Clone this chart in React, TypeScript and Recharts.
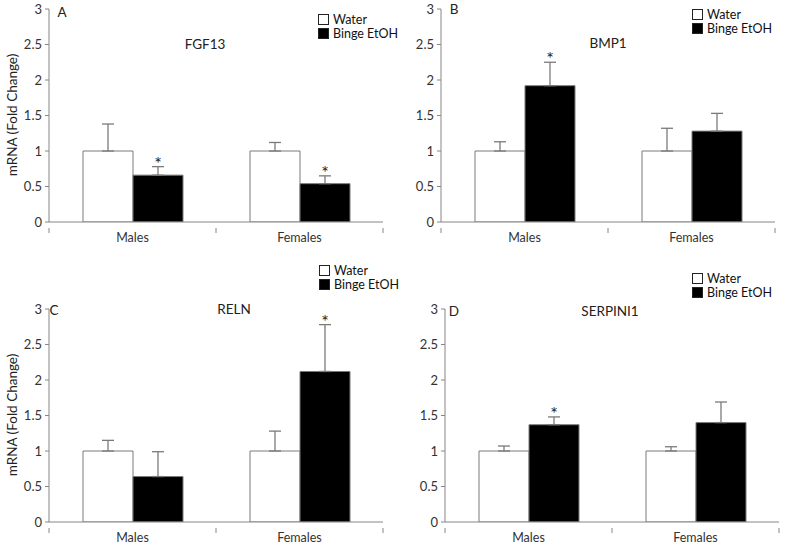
import React from 'react'
import { BarChart, Bar, XAxis, YAxis, ErrorBar, LabelList } from 'recharts'

const categories = ['Males', 'Females']
const yTicks = [0, 0.5, 1, 1.5, 2, 2.5, 3]

// FGF13 (A)
const fgf13Water = [1, 1]
const fgf13WaterErr = [0.38, 0.12]
const fgf13Binge = [0.66, 0.54]
const fgf13BingeErr = [0.12, 0.11]
const fgf13Sig = [true, true]

// BMP1 (B)
const bmp1Water = [1, 1]
const bmp1WaterErr = [0.13, 0.32]
const bmp1Binge = [1.92, 1.28]
const bmp1BingeErr = [0.33, 0.25]
const bmp1Sig = [true, false]

// RELN (C)
const relnWater = [1, 1]
const relnWaterErr = [0.15, 0.28]
const relnBinge = [0.64, 2.12]
const relnBingeErr = [0.35, 0.66]
const relnSig = [false, true]

// SERPINI1 (D)
const serpWater = [1, 1]
const serpWaterErr = [0.07, 0.06]
const serpBinge = [1.37, 1.4]
const serpBingeErr = [0.11, 0.29]
const serpSig = [true, false]

const FONT = 'Lato, "Liberation Sans", sans-serif'
const AXIS = '#868686'
const CHART_W = 392
const Y_W = 49
const RIGHT = 9
const HALF_BAND = (CHART_W - Y_W - RIGHT) / categories.length / 2

// category label plus the small boundary ticks between groups
const CatTick = (props: any) => {
  const { x, y, payload, index } = props
  const y0 = y - 6
  return (
    <g>
      {index === 0 && <line x1={x - HALF_BAND} x2={x - HALF_BAND} y1={y0} y2={y0 + 5} stroke={AXIS} />}
      <line x1={x + HALF_BAND} x2={x + HALF_BAND} y1={y0} y2={y0 + 5} stroke={AXIS} />
      <text x={x} y={y + 8} textAnchor="middle" fontSize={12.5} fill="#333" fontFamily={FONT}>
        {payload.value}
      </text>
    </g>
  )
}

type PanelProps = {
  left: number
  top: number
  letter: string
  title: string
  water: number[]
  waterErr: number[]
  binge: number[]
  bingeErr: number[]
  sig: boolean[]
  yLabel: boolean
  legend: { x: number; y: number }
  titlePos: { x: number; y: number }
  letterPos: { x: number; y: number }
}

function Panel(p: PanelProps) {
  const data = categories.map((c, i) => ({
    name: c,
    water: p.water[i],
    waterErr: [0, p.waterErr[i]],
    binge: p.binge[i],
    bingeErr: [0, p.bingeErr[i]],
  }))

  const star = (props: any) => {
    const { x, y, width, height, value, index } = props
    if (!p.sig[index]) return null
    const ppu = height / value
    const ty = y - p.bingeErr[index] * ppu + 3
    return (
      <text x={x + width / 2} y={ty} textAnchor="middle" fontSize={18} fontFamily={FONT} fill="#222">
        *
      </text>
    )
  }

  return (
    <>
      <div style={{ position: 'absolute', left: p.left, top: p.top }}>
        <BarChart
          width={CHART_W}
          height={250}
          data={data}
          margin={{ top: 9, right: RIGHT, left: 0, bottom: 0 }}
          barCategoryGap={34}
          barGap={0}
        >
          <XAxis
            dataKey="name"
            height={28}
            tickLine={false}
            axisLine={{ stroke: AXIS }}
            tick={<CatTick />}
            tickMargin={6}
          />
          <YAxis
            width={Y_W}
            domain={[0, 3]}
            ticks={yTicks}
            tickSize={4}
            axisLine={{ stroke: AXIS }}
            tickLine={{ stroke: AXIS }}
            tick={{ fontSize: 13, fill: '#333', fontFamily: FONT }}
            tickMargin={3}
            allowDataOverflow
          />
          <Bar dataKey="water" fill="#ffffff" stroke="#7a7a7a" strokeWidth={1} isAnimationActive={false}>
            <ErrorBar dataKey="waterErr" width={6} stroke="#7a7a7a" strokeWidth={1.3} direction="y" />
          </Bar>
          <Bar dataKey="binge" fill="#000000" stroke="#7a7a7a" strokeWidth={1} isAnimationActive={false}>
            <ErrorBar dataKey="bingeErr" width={6} stroke="#7a7a7a" strokeWidth={1.3} direction="y" />
            <LabelList dataKey="binge" content={star} />
          </Bar>
        </BarChart>
      </div>
      <div
        style={{
          position: 'absolute',
          left: p.titlePos.x,
          top: p.titlePos.y,
          transform: 'translate(-50%, -50%)',
          fontFamily: FONT,
          fontSize: 13.5,
          color: '#222',
          whiteSpace: 'nowrap',
        }}
      >
        {p.title}
      </div>
      <div
        style={{
          position: 'absolute',
          left: p.letterPos.x,
          top: p.letterPos.y,
          transform: 'translate(-50%, -50%)',
          fontFamily: FONT,
          fontSize: 13.5,
          color: '#222',
        }}
      >
        {p.letter}
      </div>
      {p.yLabel && (
        <div
          style={{
            position: 'absolute',
            left: 12,
            top: p.top + 115,
            transform: 'translate(-50%, -50%) rotate(-90deg)',
            fontFamily: FONT,
            fontSize: 13.5,
            color: '#222',
            whiteSpace: 'nowrap',
          }}
        >
          mRNA (Fold Change)
        </div>
      )}
      <div
        style={{
          position: 'absolute',
          left: p.legend.x,
          top: p.legend.y,
          fontFamily: FONT,
          fontSize: 12.5,
          lineHeight: '13.5px',
          color: '#111',
        }}
      >
        {[
          { label: 'Water', fill: '#fff' },
          { label: 'Binge EtOH', fill: '#000' },
        ].map((e) => (
          <div key={e.label} style={{ display: 'flex', alignItems: 'center', height: 13.5 }}>
            <span
              style={{
                display: 'inline-block',
                width: 9,
                height: 9,
                background: e.fill,
                border: '1px solid #222',
                marginRight: 4,
              }}
            />
            {e.label}
          </div>
        ))}
      </div>
    </>
  )
}

export default function App() {
  return (
    <div style={{ position: 'absolute', left: 0, top: 0, width: 798, height: 547, background: '#fff', overflow: 'hidden' }}>
      <Panel
        left={0}
        top={0}
        letter="A"
        title="FGF13"
        water={fgf13Water}
        waterErr={fgf13WaterErr}
        binge={fgf13Binge}
        bingeErr={fgf13BingeErr}
        sig={fgf13Sig}
        yLabel
        legend={{ x: 318, y: 13 }}
        titlePos={{ x: 205, y: 44 }}
        letterPos={{ x: 62, y: 12 }}
      />
      <Panel
        left={392}
        top={0}
        letter="B"
        title="BMP1"
        water={bmp1Water}
        waterErr={bmp1WaterErr}
        binge={bmp1Binge}
        bingeErr={bmp1BingeErr}
        sig={bmp1Sig}
        yLabel={false}
        legend={{ x: 692, y: 8 }}
        titlePos={{ x: 608, y: 43 }}
        letterPos={{ x: 454, y: 9 }}
      />
      <Panel
        left={0}
        top={300}
        letter="C"
        title="RELN"
        water={relnWater}
        waterErr={relnWaterErr}
        binge={relnBinge}
        bingeErr={relnBingeErr}
        sig={relnSig}
        yLabel
        legend={{ x: 319, y: 264 }}
        titlePos={{ x: 234, y: 309 }}
        letterPos={{ x: 54, y: 310 }}
      />
      <Panel
        left={396}
        top={300}
        letter="D"
        title="SERPINI1"
        water={serpWater}
        waterErr={serpWaterErr}
        binge={serpBinge}
        bingeErr={serpBingeErr}
        sig={serpSig}
        yLabel={false}
        legend={{ x: 692, y: 272 }}
        titlePos={{ x: 610, y: 311 }}
        letterPos={{ x: 454, y: 311 }}
      />
    </div>
  )
}
